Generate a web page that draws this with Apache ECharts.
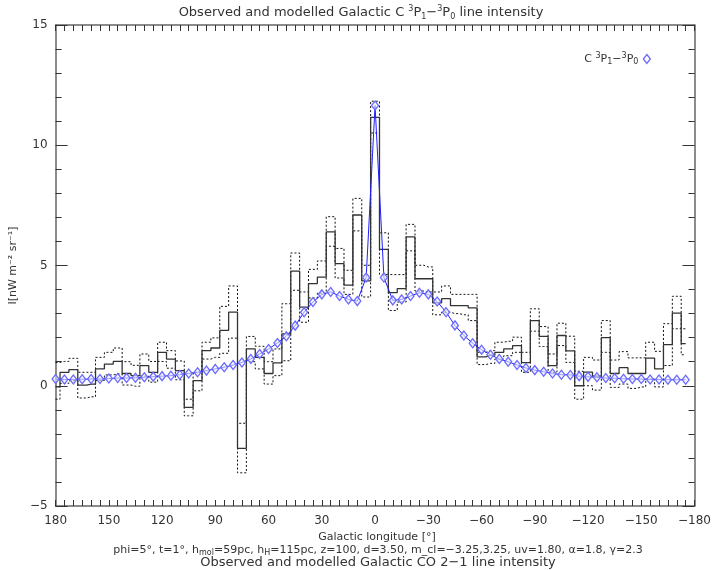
<!DOCTYPE html>
<html lang="en">
<head>
    <meta charset="UTF-8">
    <title>Galactic C 3P1-3P0</title>
    <script src="https://cdn.jsdelivr.net/npm/echarts@6/dist/echarts.min.js"></script>
    <style>
        html, body { margin: 0; padding: 0; background: #fff; }
        #main { width: 714px; height: 570px; }
    </style>
</head>
<body>
<div id="main"></div>
<script>
    // longitudes of the 5 degree bins (deg)
    var lon = [180,175,170,165,160,155,150,145,140,135,130,125,120,115,110,105,100,95,90,85,80,75,70,65,60,55,50,45,40,35,30,25,20,15,10,5,
        0,-5,-10,-15,-20,-25,-30,-35,-40,-45,-50,-55,-60,-65,-70,-75,-80,-85,-90,-95,-100,-105,-110,-115,-120,-125,-130,-135,-140,-145,-150,-155,-160,-165,-170,-175];
    // observed intensity (solid histogram)
    var observed = [-0.05,0.56,0.67,0.03,0.07,0.70,0.90,1.01,0.51,0.42,0.84,0.56,1.39,1.11,0.63,-0.90,0.21,1.46,1.57,2.30,3.06,-2.60,1.53,1.18,0.51,0.95,2.16,4.77,3.27,4.25,4.52,6.40,5.08,4.18,7.10,4.36,
        11.16,5.67,3.87,4.04,6.19,4.45,4.45,3.45,3.62,3.33,3.33,3.24,1.20,1.27,1.39,1.53,1.67,0.96,2.71,2.05,0.84,2.09,1.45,0.00,0.57,0.40,2.00,0.51,0.75,0.51,0.51,1.15,0.70,1.71,3.02,1.75];
    // upper / lower error bounds (dotted)
    var upper = [0.97,1.01,1.14,0.56,0.56,1.18,1.39,1.57,1.00,0.85,1.32,1.01,1.81,1.46,1.03,-0.56,0.56,1.81,1.99,3.30,4.15,-1.56,2.05,1.64,1.00,1.53,3.41,5.52,3.90,4.84,5.19,7.03,5.71,4.80,7.79,5.01,
        11.83,6.36,4.62,4.62,6.71,5.01,4.94,3.90,4.15,3.80,3.80,3.80,1.39,1.46,1.81,1.85,2.02,1.39,3.20,2.46,1.32,2.60,2.06,0.60,1.18,1.07,2.71,1.07,1.42,1.16,1.16,1.81,1.43,2.58,3.72,2.37];
    var lower = [-0.56,0.10,0.21,-0.51,-0.46,0.22,0.45,0.49,0.03,-0.02,0.40,0.15,1.01,0.73,0.25,-1.25,-0.21,1.11,1.18,1.35,1.98,-3.62,1.00,0.70,0.07,0.42,1.04,3.97,2.64,3.65,3.85,5.80,4.48,3.80,6.44,3.69,
        10.51,4.63,3.13,3.48,5.61,3.94,3.90,2.95,3.06,3.00,2.95,2.71,0.88,0.93,1.11,1.25,1.39,0.56,2.27,1.63,0.56,1.67,0.97,-0.56,0.00,-0.18,1.39,-0.07,0.07,-0.11,-0.05,0.28,-0.05,0.84,2.37,1.29];
    // model (blue diamonds)
    var model = [0.28,0.26,0.26,0.27,0.28,0.28,0.30,0.32,0.32,0.33,0.35,0.38,0.40,0.42,0.46,0.51,0.56,0.63,0.70,0.77,0.86,0.97,1.11,1.32,1.53,1.78,2.06,2.50,3.06,3.48,3.80,3.90,3.73,3.59,3.52,4.50,
        11.65,4.50,3.55,3.59,3.73,3.87,3.80,3.50,3.06,2.51,2.09,1.77,1.50,1.29,1.11,1.00,0.86,0.74,0.65,0.58,0.51,0.46,0.45,0.40,0.37,0.35,0.32,0.31,0.29,0.28,0.28,0.26,0.26,0.25,0.25,0.25];

    function pairs(vals) {
        return lon.map(function (l, i) { return [l, vals[i]]; });
    }

    var font = 'DejaVu Sans';
    var txt = '#333';
    var richSS = {
        sup: { fontSize: 8, verticalAlign: 'top', lineHeight: 9, fontFamily: font, color: txt },
        sub: { fontSize: 8, verticalAlign: 'bottom', lineHeight: 8, fontFamily: font, color: txt }
    };
    var zrRich = {
        sup: { fontSize: 8, verticalAlign: 'top', lineHeight: 9, fontFamily: font, fill: txt },
        sub: { fontSize: 8, verticalAlign: 'bottom', lineHeight: 8, fontFamily: font, fill: txt }
    };

    function xAx(pos) {
        return {
            type: 'value', min: -180, max: 180, interval: 30, inverse: true, position: pos,
            axisLine: { onZero: false, lineStyle: { color: '#666', width: 1.5 } },
            axisTick: { inside: true, length: 6, lineStyle: { color: '#333' } },
            minorTick: { show: true, splitNumber: 6, length: 6, lineStyle: { color: '#333' } },
            axisLabel: {
                show: pos === 'bottom', color: txt, fontSize: 12, margin: 9, fontFamily: font,
                formatter: function (v) { return String(v).replace('-', '\u2212'); }
            },
            splitLine: { show: false }
        };
    }
    function yAx(pos) {
        return {
            type: 'value', min: -5, max: 15, interval: 5, position: pos,
            axisLine: { show: true, onZero: false, lineStyle: { color: '#666', width: 1.5 } },
            axisTick: { show: true, inside: true, length: 12, lineStyle: { color: '#333' } },
            minorTick: { show: true, splitNumber: 5, length: 6, lineStyle: { color: '#333' } },
            axisLabel: {
                show: pos === 'left', color: txt, fontSize: 12, margin: 8, fontFamily: font,
                formatter: function (v) { return String(v).replace('-', '\u2212'); }
            },
            splitLine: { show: false }
        };
    }

    var xb = xAx('bottom');
    var yl = yAx('left');
    yl.name = 'I[nW m\u207b\u00b2 sr\u207b\u00b9]';
    yl.nameLocation = 'middle';
    yl.nameGap = 34;
    yl.nameTextStyle = { fontSize: 11, color: txt, fontFamily: font };

    var chart = echarts.init(document.getElementById('main'));
    var option = {
        animation: false,
        backgroundColor: '#fff',
        grid: { left: 53, right: 13, top: 25, bottom: 64 },
        xAxis: [xb, xAx('top')],
        yAxis: [yl, yAx('right')],
        legend: {
            data: [{ name: 'model', icon: 'diamond',
                     itemStyle: { color: '#ffffff', borderColor: '#6a6aff', borderWidth: 1.3 } }],
            right: 58, top: 47, align: 'right', itemWidth: 7, itemHeight: 9, itemGap: 4,
            formatter: function () { return 'C {sup|3}P{sub|1}\u2212{sup|3}P{sub|0}'; },
            textStyle: { fontSize: 11, color: txt, fontFamily: font, lineHeight: 14, rich: richSS }
        },
        graphic: [
            { type: 'text', x: 361, y: 13, style: {
                text: 'Observed and modelled Galactic C {sup|3}P{sub|1}\u2212{sup|3}P{sub|0} line intensity',
                fontSize: 13, fontFamily: font, fill: txt, align: 'center', verticalAlign: 'middle', lineHeight: 16, rich: zrRich } },
            { type: 'text', x: 377, y: 537, style: {
                text: 'Galactic longitude [\u00b0]',
                fontSize: 11, fontFamily: font, fill: txt, align: 'center', verticalAlign: 'middle' } },
            { type: 'text', x: 378, y: 550, style: {
                text: 'phi=5\u00b0, t=1\u00b0, h{sub|mol}=59pc, h{sub|H}=115pc, z=100, d=3.50, m_cl=\u22123.25,3.25, uv=1.80, \u03b1=1.8, \u03b3=2.3',
                fontSize: 11, fontFamily: font, fill: txt, align: 'center', verticalAlign: 'middle', lineHeight: 14, rich: zrRich } },
            { type: 'text', x: 378, y: 563, style: {
                text: 'Observed and modelled Galactic CO 2\u22121 line intensity',
                fontSize: 13, fontFamily: font, fill: txt, align: 'center', verticalAlign: 'middle' } }
        ],
        series: [
            { name: 'upper', type: 'line', step: 'middle', data: pairs(upper), symbol: 'none',
              lineStyle: { color: '#111', width: 1, type: [2, 2] }, z: 2 },
            { name: 'lower', type: 'line', step: 'middle', data: pairs(lower), symbol: 'none',
              lineStyle: { color: '#111', width: 1, type: [2, 2] }, z: 2 },
            { name: 'observed', type: 'line', step: 'middle', data: pairs(observed), symbol: 'none',
              lineStyle: { color: '#333', width: 1.3 }, z: 3 },
            { name: 'model', type: 'line', data: pairs(model), symbol: 'diamond', symbolSize: [7, 9],
              lineStyle: { color: '#1f1fff', width: 1 },
              itemStyle: { color: 'rgba(235,235,255,0.6)', borderColor: '#6a6aff', borderWidth: 1.3 }, z: 5 }
        ]
    };
    chart.setOption(option);
</script>
</body>
</html>
